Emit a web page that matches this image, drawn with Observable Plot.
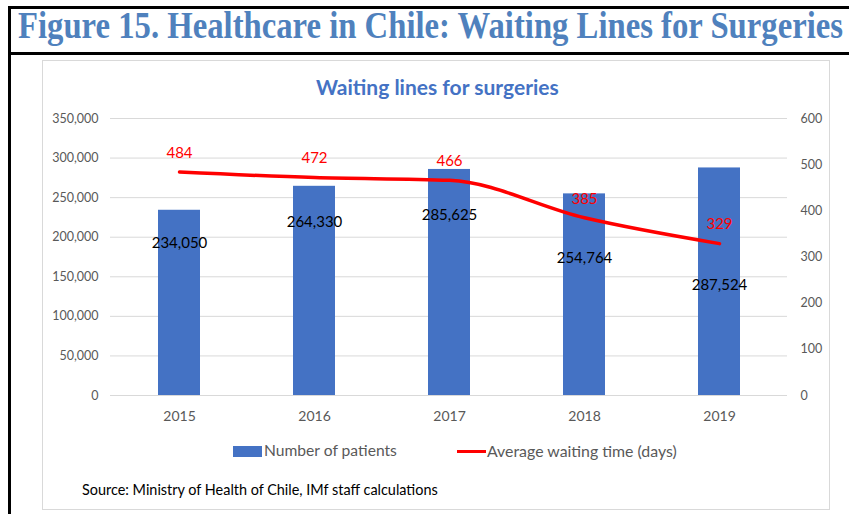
<!DOCTYPE html>
<html><head><meta charset="utf-8">
<script src="https://cdn.jsdelivr.net/npm/d3@7"></script>
<script src="https://cdn.jsdelivr.net/npm/@observablehq/plot@0.6"></script>
<style>
body{margin:0;background:#fff;}
#page{position:relative;width:849px;height:514px;overflow:hidden;background:#fff;font-family:Lato,"Open Sans",sans-serif;}
.abs{position:absolute;}
.t{position:absolute;white-space:nowrap;line-height:1;}
</style></head><body><div id="page">
<div class="abs" style="left:8px;top:6px;width:841px;height:3px;background:#000"></div>
<div class="abs" style="left:8px;top:6px;width:3px;height:508px;background:#000"></div>
<div class="abs" style="left:8px;top:52px;width:841px;height:3px;background:#000"></div>
<div id="title" class="t" style="left:18px;top:7px;font-family:'Liberation Serif','Times New Roman',serif;font-weight:bold;font-size:37px;color:#4F81BD;transform-origin:0 0;">Figure 15. Healthcare in Chile: Waiting Lines for Surgeries</div>
<div class="abs" style="left:42px;top:60px;width:788px;height:450px;border:1px solid #d9d9d9;box-sizing:border-box;"></div>
<div id="ctitle" class="t" style="font-weight:bold;font-size:19px;color:#4472C4;">Waiting lines for surgeries</div>
<div id="chart" class="abs" style="left:42px;top:100px;"></div>
<div class="abs" style="left:233px;top:446px;width:29px;height:11px;background:#4472C4"></div>
<div id="leg1" class="t" style="font-size:14.5px;color:#595959;">Number of patients</div>
<div class="abs" style="left:457px;top:450px;width:29px;height:3px;background:#ff0000"></div>
<div id="leg2" class="t" style="font-size:14.5px;color:#595959;">Average waiting time (days)</div>
<div id="src" class="t" style="font-size:13px;color:#000;">Source: Ministry of Health of Chile, IMf staff calculations</div>
</div>
<script>
const years = ["2015", "2016", "2017", "2018", "2019"];
const patients = [234050, 264330, 285625, 254764, 287524];
const waitDays = [484, 472, 466, 385, 329];
const leftTicks = [0, 50000, 100000, 150000, 200000, 250000, 300000, 350000];
const rightTicks = [0, 100, 200, 300, 400, 500, 600];

// where Excel placed each bar's value label, in patient units
const patientLabelAt = [191900, 218400, 227300, 173000, 138900];

const k = 350000 / 600;
const rows = years.map((y, i) => ({year: y, patients: patients[i], days: waitDays[i], labelAt: patientLabelAt[i]}));
const fmt = d3.format(",");

const chart = Plot.plot({
  width: 789, height: 330,
  marginLeft: 68, marginRight: 44, marginTop: 18, marginBottom: 35,
  style: {fontFamily: "Lato, sans-serif", fontSize: "12.5px", color: "#595959", background: "transparent", overflow: "visible"},
  x: {type: "band", domain: years, paddingInner: 0.69, paddingOuter: 0.345, label: null},
  y: {domain: [0, 350000], label: null},
  marks: [
    Plot.ruleY(leftTicks, {stroke: "#d9d9d9", strokeWidth: 1}),
    Plot.barY(rows, {x: "year", y: "patients", fill: "#4472C4"}),
    Plot.text(rows, {x: "year", y: "labelAt", text: d => fmt(d.patients), fill: "#000", fontSize: 15}),
    Plot.line(rows, {x: "year", y: d => d.days * k, stroke: "#ff0000", strokeWidth: 3.5, curve: "monotone-x"}),
    Plot.text(rows, {x: "year", y: d => d.days * k, dy: -19, text: d => String(d.days), fill: "#ff0000", fontSize: 15}),
    Plot.axisX({tickSize: 0, tickPadding: 16, fontSize: 14, label: null}),
    Plot.axisY(leftTicks, {anchor: "left", tickSize: 0, tickPadding: 12, tickFormat: fmt, label: null}),
    Plot.axisY(rightTicks.map(v => v * k), {anchor: "right", tickSize: 0, tickPadding: 13, tickFormat: v => fmt(Math.round(v / k)), label: null})
  ]
});
document.getElementById("chart").appendChild(chart);

const title = document.getElementById("title");
const w = title.getBoundingClientRect().width;
title.style.transform = `scaleX(${825 / w})`;

// size a text so it spans [x0, x1], vertically centred on cy
function fit(id, x0, x1, cy) {
  const el = document.getElementById(id);
  const f0 = parseFloat(getComputedStyle(el).fontSize);
  const f = f0 * (x1 - x0) / el.getBoundingClientRect().width;
  el.style.fontSize = f + "px";
  el.style.left = x0 + "px";
  el.style.top = (cy - 0.53 * f) + "px";
}
fit("ctitle", 316, 559, 87);
fit("leg1", 264, 397, 451);
fit("leg2", 487, 677, 451);
fit("src", 82, 438, 491);
</script>
</body></html>
